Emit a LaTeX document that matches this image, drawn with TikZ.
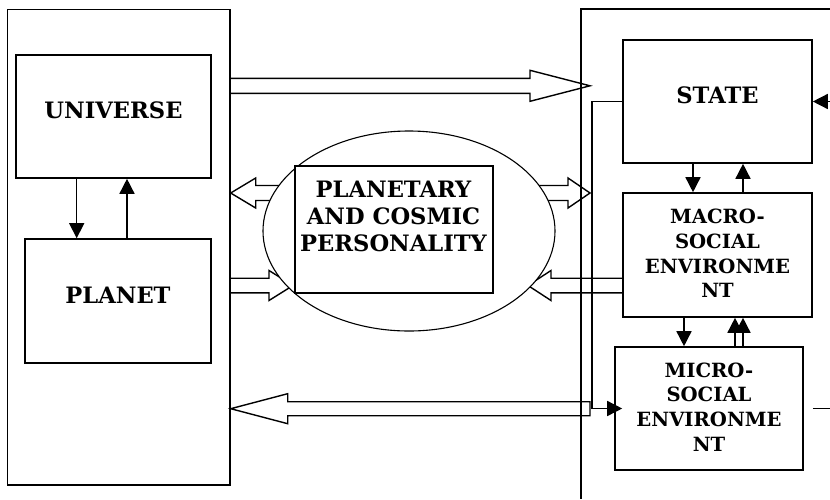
\documentclass[tikz,border=0pt]{standalone}
\usepackage{fontspec}
\setmainfont{DejaVu Serif}
\usetikzlibrary{arrows.meta,calc}
\tikzset{
  bx/.style={draw, line width=1.6pt, inner sep=0pt, fill=white},
  big/.style={font=\fontsize{22.6}{27}\selectfont\bfseries, align=center, inner sep=0pt},
  small/.style={font=\fontsize{19.6}{24.7}\selectfont\bfseries, align=center, inner sep=0pt},
  arr/.style={line width=1.5pt, -{Triangle[length=15pt,width=15pt]}},
  ln/.style={line width=1.5pt},
  blk/.style={line width=1.4pt, line join=miter},
}
\newcommand{\blockR}[5]{\draw[blk] let \p1=(#1),\p2=(#2) in (\x1,\y1+#3) -- (\x2-#5,\y1+#3) -- (\x2-#5,\y1+#4) -- (\x2,\y1) -- (\x2-#5,\y1-#4) -- (\x2-#5,\y1-#3) -- (\x1,\y1-#3) -- cycle;}
\newcommand{\blockL}[5]{\draw[blk] let \p1=(#1),\p2=(#2) in (\x1,\y1+#3) -- (\x2+#5,\y1+#3) -- (\x2+#5,\y1+#4) -- (\x2,\y1) -- (\x2+#5,\y1-#4) -- (\x2+#5,\y1-#3) -- (\x1,\y1-#3) -- cycle;}
\begin{document}
\begin{tikzpicture}[x=1pt,y=-1pt]
\useasboundingbox (0,0) rectangle (830,499);
% outer frames
\node[bx, minimum width=222.5pt, minimum height=475.7pt] (left) at (118.75,247.2) {};
\coordinate (rtop) at (830,9);
\coordinate (rcorner) at (581,9);
\coordinate (rbot) at (581,499);
\draw[ln, line width=1.6pt] (rtop) -- (rcorner) -- (rbot);
% left inner boxes
\node[bx, minimum width=195pt, minimum height=123pt] (universe) at (113.5,116.5) {};
\node[big] (universe-t) at ([yshift=6pt]universe.center) {UNIVERSE};
\node[bx, minimum width=186pt, minimum height=124pt] (planet) at (118,301) {};
\node[big] (planet-t) at ([yshift=6pt]planet.center) {PLANET};
\draw[arr] ([xshift=-36.8pt]universe.south) -- ([xshift=-36.8pt]universe.south |- planet.north);
\draw[arr] ([xshift=13.5pt]universe.south |- planet.north) -- ([xshift=13.5pt]universe.south);
% right inner boxes
\node[bx, minimum width=189pt, minimum height=123pt] (state) at (717.5,101.5) {};
\node[big] (state-t) at ([yshift=6pt]state.center) {STATE};
\node[bx, minimum width=189pt, minimum height=124pt] (macro) at (717.5,255) {};
\node[small] (macro-t) at ([yshift=1.5pt]macro.center) {MACRO-\\SOCIAL\\ENVIRONME\\NT};
\node[bx, minimum width=188pt, minimum height=123pt] (micro) at (709,408.5) {};
\node[small] (micro-t) at ([yshift=1.5pt]micro.center) {MICRO-\\SOCIAL\\ENVIRONME\\NT};
\draw[arr] ([xshift=-24.5pt]state.south) -- ([xshift=-24.5pt]state.south |- macro.north);
\draw[arr] ([xshift=25.5pt]state.south |- macro.north) -- ([xshift=25.5pt]state.south);
\draw[arr] ([xshift=-33.5pt]macro.south) -- ([xshift=-33.5pt]macro.south |- micro.north);
\draw[arr] ([xshift=17.5pt]macro.south |- micro.north) -- ([xshift=17.5pt]macro.south);
\draw[arr] ([xshift=25.5pt]macro.south |- micro.north) -- ([xshift=25.5pt]macro.south);
\coordinate (ein) at (831,101.5);
\draw[arr] (ein) -- (state.east);
\coordinate (bend) at (592,0);
\draw[arr, shorten >=-8pt] (state.west) -| (bend |- micro.west) -- (micro.west);
\coordinate (eout) at (831,408.5);
\draw[ln] ([xshift=9pt]micro.east) -- (eout);
% block arrows
\coordinate (a1s) at (230,85.8);
\coordinate (a1e) at (590,85.8);
\blockR{a1s}{a1e}{7.5pt}{15.5pt}{60pt}
\coordinate (a2l) at (230.7,193);
\coordinate (a2r) at (590,193);
\draw[blk] (a2l) -- ++(25,-15) -- ++(0,7.5) -- ($(a2r)+(-22,-7.5)$) -- ++(0,-7.5) -- (a2r) -- ++(-22,15) -- ++(0,-7.5) -- ($(a2l)+(25,7.5)$) -- ++(0,7.5) -- cycle;
\coordinate (a3s) at (230,285.5);
\coordinate (a3e) at (293,285.5);
\blockR{a3s}{a3e}{7.3pt}{15pt}{24pt}
\coordinate (a4s) at (623,285.5);
\coordinate (a4e) at (528,285.5);
\blockL{a4s}{a4e}{7.3pt}{15pt}{23pt}
\coordinate (a5s) at (590,408.7);
\coordinate (a5e) at (230.7,408.7);
\blockL{a5s}{a5e}{7pt}{15pt}{57pt}
% ellipse and central box
\draw[line width=1.1pt, fill=white] (409,231) ellipse [x radius=146, y radius=100];
\node[bx, line width=1.3pt, minimum width=198pt, minimum height=127pt] (pers) at (394,229.5) {};
\node[big, anchor=north] (pers-t) at (393.5,181) {PLANETARY\\AND COSMIC\\PERSONALITY};
\end{tikzpicture}
\end{document}
